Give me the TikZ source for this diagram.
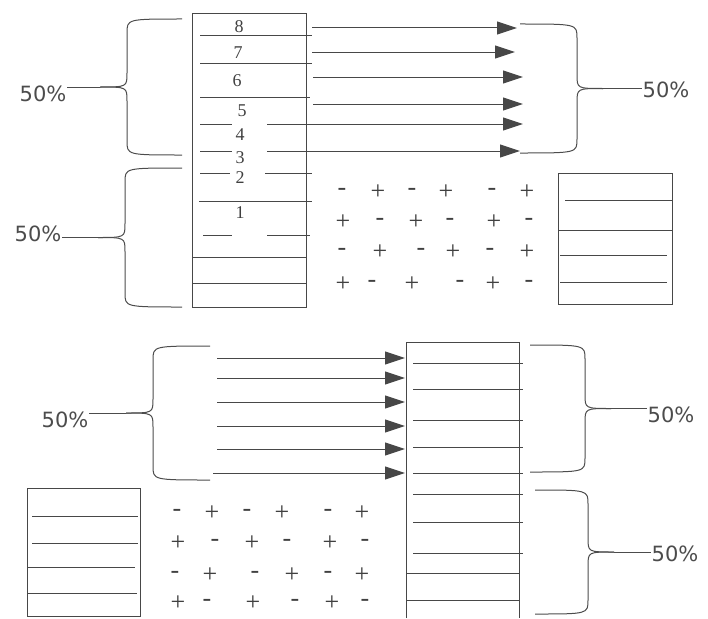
\documentclass[tikz,border=0pt]{standalone}
\usepackage{fontspec}
\setmainfont{Liberation Serif}
\newfontfamily\pctfont{DejaVu Sans}
\usetikzlibrary{arrows.meta,positioning}

\tikzset{
  ln/.style={draw=black!72, line width=1pt},
  arr/.style={ln, -{Triangle[length=20pt,width=13pt]}},
  brc/.style={draw=black!70, line width=1pt},
  stack/.style={draw=black!72, line width=1pt, inner sep=0pt},
  pct/.style={font=\pctfont\fontsize{21}{23}\selectfont, text=black!70, inner sep=0pt},
  num/.style={font=\fontsize{18}{20}\selectfont, text=black!75, inner sep=0pt},
  sgn/.style={font=\fontsize{26}{28}\selectfont, text=black!75, inner sep=0pt},
}

% brace: end x, top y, bottom y, spine x, tip x, tip name
\newcommand{\bracket}[6]{%
  \draw[brc] (#1,#2) .. controls (#4,#2) .. (#4,{#2+14}) -- (#4,{(#2+#3)/2-14})
    .. controls (#4,{(#2+#3)/2}) .. (#5,{(#2+#3)/2}) coordinate (#6);
  \draw[brc] (#1,#3) .. controls (#4,#3) .. (#4,{#3-14}) -- (#4,{(#2+#3)/2+14})
    .. controls (#4,{(#2+#3)/2}) .. (#5,{(#2+#3)/2});
}

\begin{document}
\begin{tikzpicture}[x=1pt,y=-1pt]
  \useasboundingbox (0,0) rectangle (708,618);

  % upper half: layers leave the stack
  \node[stack, minimum width=114pt, minimum height=293pt] (colA) at (249,160.5) {};
  \foreach \xa/\xb/\y in {200/312/36, 200/312/63, 200/310/97, 200/232/124, 200/232/151,
      200/230/173, 265/312/173, 199/312/201, 203/232/235, 267/310/235, 192/306/257, 192/306/283}
    \draw[ln] (\xa,\y) -- (\xb,\y);
  \foreach \n/\x/\y in {8/239/27, 7/238/53, 6/237/81, 5/242/111, 4/240/135, 3/240/158, 2/240/178, 1/240/213}
    \node[num] (lay\n) at (\x,\y) {\n};
  \foreach \xs/\xe/\y [count=\i] in {312/517/28, 312/515/52, 313/523/77, 313/523/104, 267/523/124, 267/520/151} {
    \coordinate (s\i) at (\xs,\y);
    \coordinate (e\i) at (\xe,\y);
    \draw[arr] (s\i) -- (e\i);
  }

  \node[stack, minimum width=114pt, minimum height=131pt] (boxA) at (615,238.5) {};
  \foreach \xa/\xb/\y in {565/672/200, 558/672/230, 560/667/255, 560/667/282}
    \draw[ln] (\xa,\y) -- (\xb,\y);

  \foreach \y/\row in {192/{-/342,+/378,-/412,+/446,-/492,+/527},
                       222/{+/343,-/380,+/416,-/450,+/494,-/529},
                       252/{-/342,+/380,-/421,+/453,-/490,+/527},
                       284/{+/343,-/372,+/412,-/460,+/493,-/529}}
    \foreach \s/\x in \row
      \node[sgn] (sa-\y-\x) at (\x,\y) {\s};

  \node[pct] (pA) at (666,90) {50\%};
  \node[pct] (pB) at (43,94) {50\%};
  \node[pct] (pC) at (38,234) {50\%};
  \bracket{520}{24}{153}{577}{603}{tA}
  \bracket{182}{19}{155}{127}{100}{tB}
  \bracket{182}{168}{307}{125}{98}{tC}
  \draw[brc] (tA) -- (tA -| pA.west);
  \draw[brc] (tB) -- (tB -| pB.east);
  \draw[brc] (tC) -- (tC -| pC.east);

  % lower half: layers enter the stack
  \draw[ln] (406,618) -- (406,342) -- (519,342) -- (519,618);
  \foreach \xa/\xb/\y in {413/523/363, 413/523/389, 413/523/420, 413/523/447, 413/523/473,
      413/523/494, 413/523/522, 413/523/553, 406/519/573, 406/519/600}
    \draw[ln] (\xa,\y) -- (\xb,\y);
  \foreach \xs/\y [count=\i] in {217/358, 217/378, 217/402, 217/426, 217/449, 213/473} {
    \coordinate (u\i) at (\xs,\y);
    \coordinate (v\i) at (405,\y);
    \draw[arr] (u\i) -- (v\i);
  }

  \node[stack, minimum width=113pt, minimum height=128pt] (boxB) at (83.5,552) {};
  \foreach \xa/\xb/\y in {32/138/516, 32/138/543, 27/135/567, 28/137/593}
    \draw[ln] (\xa,\y) -- (\xb,\y);

  \foreach \y/\row in {513/{-/177,+/212,-/247,+/282,-/328,+/362},
                       543/{+/178,-/215,+/252,-/287,+/330,-/365},
                       575/{-/175,+/210,-/255,+/292,-/328,+/362},
                       603/{+/178,-/207,+/253,-/295,+/332,-/365}}
    \foreach \s/\x in \row
      \node[sgn] (sb-\y-\x) at (\x,\y) {\s};

  \node[pct] (pD) at (65,420) {50\%};
  \node[pct] (pE) at (671,415) {50\%};
  \node[pct] (pF) at (675,554) {50\%};
  \bracket{210}{346}{480}{153}{126}{tD}
  \bracket{530}{345}{472}{585}{611}{tE}
  \bracket{535}{490}{614}{588}{614}{tF}
  \draw[brc] (tD) -- (tD -| pD.east);
  \draw[brc] (tE) -- (tE -| pE.west);
  \draw[brc] (tF) -- (tF -| pF.west);
\end{tikzpicture}
\end{document}
